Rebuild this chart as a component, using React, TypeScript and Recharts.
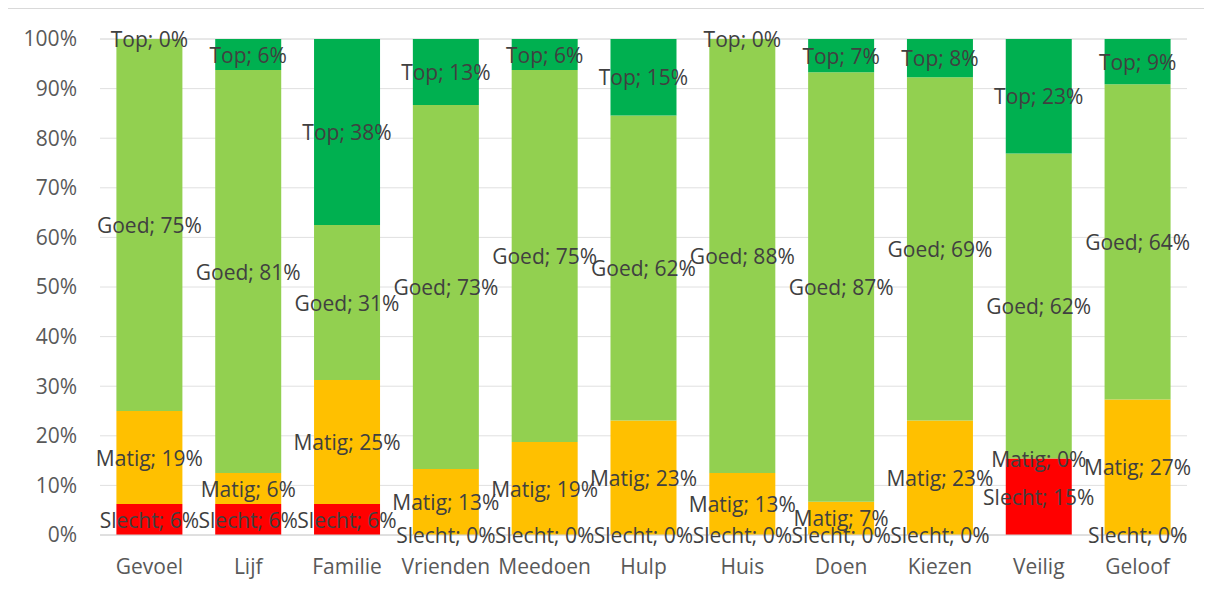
import { BarChart, Bar, XAxis, YAxis, CartesianGrid, LabelList } from "recharts";

const categories = ["Gevoel", "Lijf", "Familie", "Vrienden", "Meedoen", "Hulp", "Huis", "Doen", "Kiezen", "Veilig", "Geloof"];
const slecht = [6.25, 6.25, 6.25, 0, 0, 0, 0, 0, 0, 15.4, 0];
const matig = [18.75, 6.25, 25, 13.3, 18.75, 23.1, 12.5, 6.7, 23.1, 0, 27.3];
const goed = [75, 81.25, 31.25, 73.4, 75, 61.5, 87.5, 86.6, 69.2, 61.5, 63.6];
const top = [0, 6.25, 37.5, 13.3, 6.25, 15.4, 0, 6.7, 7.7, 23.1, 9.1];
const yTicks = [0, 10, 20, 30, 40, 50, 60, 70, 80, 90, 100];

const series = [
  { key: "Slecht", values: slecht, color: "#FF0000" },
  { key: "Matig", values: matig, color: "#FFC000" },
  { key: "Goed", values: goed, color: "#92D050" },
  { key: "Top", values: top, color: "#00B050" },
];

const data = categories.map((name, i) => ({
  name,
  Slecht: slecht[i],
  Matig: matig[i],
  Goed: goed[i],
  Top: top[i],
  total: slecht[i] + matig[i] + goed[i] + top[i],
}));

const W = 1204;
const H = 580;
const margin = { top: 30, right: 24, left: 0, bottom: 14 };
const font = "'Open Sans', sans-serif";
const fs = 21;

// all segment labels of one category, placed inside the full-height overlay bar
const renderLabels = (props: any) => {
  const { x, y, width, height, index } = props;
  const total = data[index].total;
  let cum = 0;
  return (
    <g>
      {series.map((s) => {
        const v = s.values[index];
        const mid = cum + v / 2;
        cum += v;
        return (
          <text
            key={s.key}
            x={x + width / 2}
            y={y + height * (1 - mid / total)}
            textAnchor="middle"
            dominantBaseline="central"
            fill="#404040"
            fontSize={fs}
            fontFamily={font}
          >
            {`${s.key}; ${Math.round(v)}%`}
          </text>
        );
      })}
    </g>
  );
};

const Axes = ({ visible }: { visible: boolean }) => (
  <>
    <XAxis
      dataKey="name"
      height={40}
      axisLine={visible ? { stroke: "#d0d0d0" } : false}
      tickLine={false}
      tickSize={0}
      tickMargin={24}
      tick={visible ? { fill: "#595959", fontSize: fs, fontFamily: font } : false}
    />
    <YAxis
      width={93}
      domain={[0, 100]}
      ticks={yTicks}
      axisLine={false}
      tickLine={false}
      tickSize={0}
      tickMargin={23}
      tickFormatter={(v: number) => `${v}%`}
      tick={visible ? { fill: "#595959", fontSize: fs, fontFamily: font } : false}
    />
  </>
);

const App = () => {
  return (
    <div
      style={{
        position: "relative",
        marginLeft: -2,
        width: W,
        height: 600,
        border: "1px solid #d9d9d9",
        background: "#fff",
      }}
    >
      <div style={{ position: "absolute", left: 0, top: 0 }}>
        <BarChart width={W} height={H} data={data} margin={margin} barCategoryGap="16.6%">
          <CartesianGrid vertical={false} stroke="#e0e0e0" />
          {Axes({ visible: true })}
          {series.map((s) => (
            <Bar key={s.key} dataKey={s.key} stackId="a" fill={s.color} isAnimationActive={false} />
          ))}
        </BarChart>
      </div>
      <div style={{ position: "absolute", left: 0, top: 0 }}>
        <BarChart width={W} height={H} data={data} margin={margin} barCategoryGap="16.6%">
          {Axes({ visible: false })}
          <Bar dataKey="total" fill="transparent" isAnimationActive={false}>
            <LabelList dataKey="total" content={renderLabels} />
          </Bar>
        </BarChart>
      </div>
    </div>
  );
};

export default App;
